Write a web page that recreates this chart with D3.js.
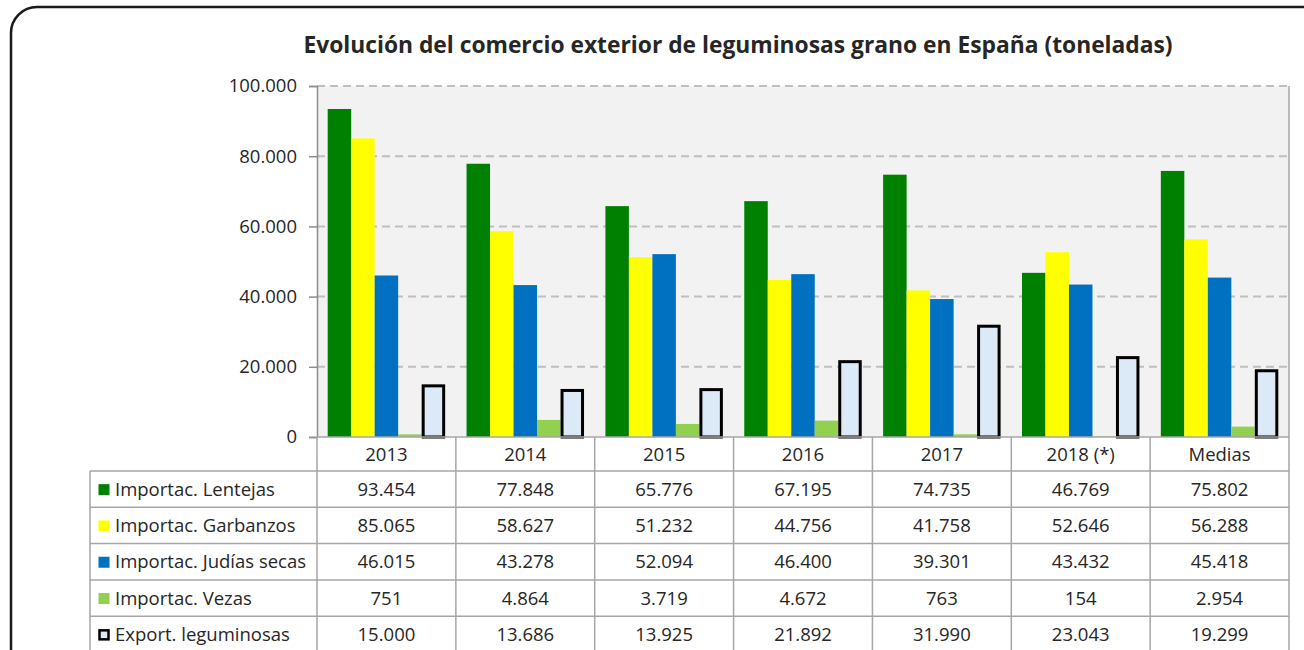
<!DOCTYPE html>
<html>
<head>
<meta charset="utf-8">
<script src="https://cdn.jsdelivr.net/npm/d3@7"></script>
<style>
  body { margin: 0; background: #fff; }
  svg text { font-family: "Open Sans", "DejaVu Sans", sans-serif; fill: #262626; }
</style>
</head>
<body>
<div id="chart"></div>
<script>
// data
var categories = ["2013", "2014", "2015", "2016", "2017", "2018 (*)", "Medias"];
var series = ["Importac. Lentejas", "Importac. Garbanzos", "Importac. Judías secas", "Importac. Vezas", "Export. leguminosas"];
var lentejas  = [93454, 77848, 65776, 67195, 74735, 46769, 75802];
var garbanzos = [85065, 58627, 51232, 44756, 41758, 52646, 56288];
var judias    = [46015, 43278, 52094, 46400, 39301, 43432, 45418];
var vezas     = [751, 4864, 3719, 4672, 763, 154, 2954];
var exports_  = [15000, 13686, 13925, 21892, 31990, 23043, 19299];
var yTicks = [0, 20000, 40000, 60000, 80000, 100000];

var colors = ["#008000", "#ffff00", "#0070c0", "#92d050", "#dce9f7"];
var values = [lentejas, garbanzos, judias, vezas, exports_];

var W = 1304, H = 650;
var plotLeft = 317, plotRight = 1289, plotTop = 86, plotBottom = 437;
var rowH = 36.3, tableLeft = 90, headerBottom = 471;
var fs = "18.5px";

var fmt = d => d3.format(",")(d).replace(/,/g, ".");

var svg = d3.select("#chart").append("svg")
            .attr("width", W)
            .attr("height", H);

// outer rounded frame
svg.append("rect")
   .attr("x", 11).attr("y", 7)
   .attr("width", 1320).attr("height", 700)
   .attr("rx", 26).attr("ry", 26)
   .attr("fill", "#fff")
   .attr("stroke", "#1a1a1a")
   .attr("stroke-width", 2.5);

svg.append("text")
   .attr("x", 738).attr("y", 53)
   .attr("text-anchor", "middle")
   .style("font-size", "22.8px")
   .style("font-weight", "bold")
   .text("Evolución del comercio exterior de leguminosas grano en España (toneladas)");

var y = d3.scaleLinear().domain([0, 100000]).range([plotBottom, plotTop]);
var x0 = d3.scaleBand().domain(categories).range([plotLeft, plotRight]).padding(0);
var x1 = d3.scaleBand().domain(series).range([0, x0.bandwidth()])
           .paddingInner(0).paddingOuter(0.455);

// plot area
svg.append("rect")
   .attr("x", plotLeft).attr("y", plotTop)
   .attr("width", plotRight - plotLeft).attr("height", plotBottom - plotTop)
   .attr("fill", "#f2f2f2")
   .attr("stroke", "none");

// gridlines
svg.append("g")
   .selectAll("line")
   .data(yTicks.filter(d => d > 0))
   .enter()
   .append("line")
   .attr("x1", plotLeft).attr("x2", plotRight)
   .attr("y1", d => y(d)).attr("y2", d => y(d))
   .attr("stroke", "#bfbfbf")
   .attr("stroke-width", 2)
   .attr("stroke-dasharray", "8,5");

// right border of plot
svg.append("line")
   .attr("x1", plotRight).attr("x2", plotRight)
   .attr("y1", plotTop).attr("y2", plotBottom)
   .attr("stroke", "#a6a6a6").attr("stroke-width", 1.5);

// y axis
var yAxis = d3.axisLeft(y)
              .tickValues(yTicks)
              .tickSize(8)
              .tickPadding(12)
              .tickFormat(fmt);

var gy = svg.append("g")
            .attr("transform", "translate(" + plotLeft + ",0)")
            .call(yAxis);
gy.select(".domain").attr("stroke", "#8c8c8c").attr("stroke-width", 1.5);
gy.selectAll(".tick line").attr("stroke", "#8c8c8c").attr("stroke-width", 1.5);
gy.selectAll(".tick text")
  .style("font-size", fs)
  .style("font-family", "'Open Sans', sans-serif")
  .attr("fill", "#262626");

// bars
series.forEach(function(s, i) {
    var g = svg.append("g").classed("series", true);
    var ex = i == 4;
    g.selectAll("rect")
     .data(values[i])
     .enter()
     .append("rect")
     .attr("x", (d, j) => x0(categories[j]) + x1(s) + (ex ? 1.5 : 0))
     .attr("y", d => y(d) + (ex ? 1.5 : 0))
     .attr("width", x1.bandwidth() - (ex ? 3 : 0))
     .attr("height", d => Math.max(0, plotBottom - y(d) - (ex ? 1.5 : 0)))
     .attr("fill", colors[i])
     .attr("stroke", ex ? "#000" : "none")
     .attr("stroke-width", ex ? 3 : 0);
});

// table
var table = svg.append("g").classed("table", true);
var nRows = series.length;
var lineColor = "#a6a6a6";

table.append("line")
     .attr("x1", plotLeft).attr("x2", plotRight)
     .attr("y1", plotBottom).attr("y2", plotBottom)
     .attr("stroke", lineColor).attr("stroke-width", 1.5);
d3.range(nRows + 1).forEach(function(r) {
    var yy = headerBottom + r * rowH;
    table.append("line")
         .attr("x1", tableLeft).attr("x2", plotRight)
         .attr("y1", yy).attr("y2", yy)
         .attr("stroke", lineColor).attr("stroke-width", 1.5);
});

table.append("line")
     .attr("x1", tableLeft).attr("x2", tableLeft)
     .attr("y1", headerBottom).attr("y2", H + 10)
     .attr("stroke", lineColor).attr("stroke-width", 1.5);
categories.concat(["end"]).forEach(function(c, j) {
    var xx = j < categories.length ? x0(c) : plotRight;
    table.append("line")
         .attr("x1", xx).attr("x2", xx)
         .attr("y1", plotBottom).attr("y2", H + 10)
         .attr("stroke", lineColor).attr("stroke-width", 1.5);
});

// header labels
table.selectAll("text.cat")
     .data(categories)
     .enter()
     .append("text")
     .attr("class", "cat")
     .attr("x", d => x0(d) + x0.bandwidth() / 2)
     .attr("y", (plotBottom + headerBottom) / 2 + 6.5)
     .attr("text-anchor", "middle")
     .style("font-size", fs)
     .text(d => d);

// legend cells + values
series.forEach(function(s, i) {
    var cy = headerBottom + i * rowH + rowH / 2;
    var ex = i == 4;
    table.append("rect")
         .attr("x", ex ? 99.5 : 98.5)
         .attr("y", cy - 5 + (ex ? 1 : 0))
         .attr("width", ex ? 9 : 11)
         .attr("height", ex ? 9 : 11)
         .attr("fill", colors[i])
         .attr("stroke", ex ? "#000" : "none")
         .attr("stroke-width", ex ? 2.5 : 0);
    table.append("text")
         .attr("x", 115).attr("y", cy + 6.5)
         .style("font-size", fs)
         .text(s);
    table.selectAll("text.v" + i)
         .data(values[i])
         .enter()
         .append("text")
         .attr("class", "v" + i)
         .attr("x", (d, j) => x0(categories[j]) + x0.bandwidth() / 2)
         .attr("y", cy + 6.5)
         .attr("text-anchor", "middle")
         .style("font-size", fs)
         .text(fmt);
});
</script>
</body>
</html>
